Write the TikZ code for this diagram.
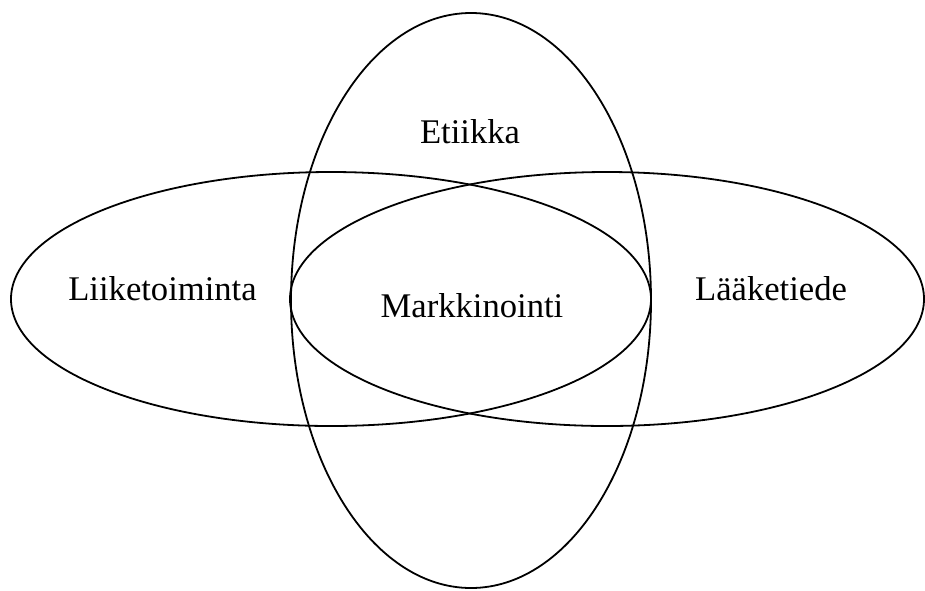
\documentclass[tikz,border=0pt]{standalone}
\usepackage{fontspec}
\setmainfont{Liberation Serif}
\usetikzlibrary{shapes.geometric}
\tikzset{
  setshape/.style={draw, ellipse, inner sep=0pt, line width=1.8pt},
  setlabel/.style={anchor=base, inner sep=0pt, font=\fontsize{34.6}{40}\selectfont}
}

\begin{document}
\begin{tikzpicture}[x=1pt,y=-1pt]
  \useasboundingbox (0,0) rectangle (925,590);

  % the three sets
  \node[setshape, minimum width=640, minimum height=254] (liike) at (331,299) {};
  \node[setshape, minimum width=634, minimum height=254] (laake) at (607,299) {};
  \node[setshape, minimum width=360, minimum height=575] (etiikka) at (471,300.5) {};

  % labels
  \node[setlabel] (tetiikka) at (470,143) {Etiikka};
  \node[setlabel] (tliike) at (162.5,300) {Liiketoiminta};
  \node[setlabel] (tmarkk) at (472,317) {Markkinointi};
  \node[setlabel] (tlaake) at (771,300) {Lääketiede};
\end{tikzpicture}
\end{document}
